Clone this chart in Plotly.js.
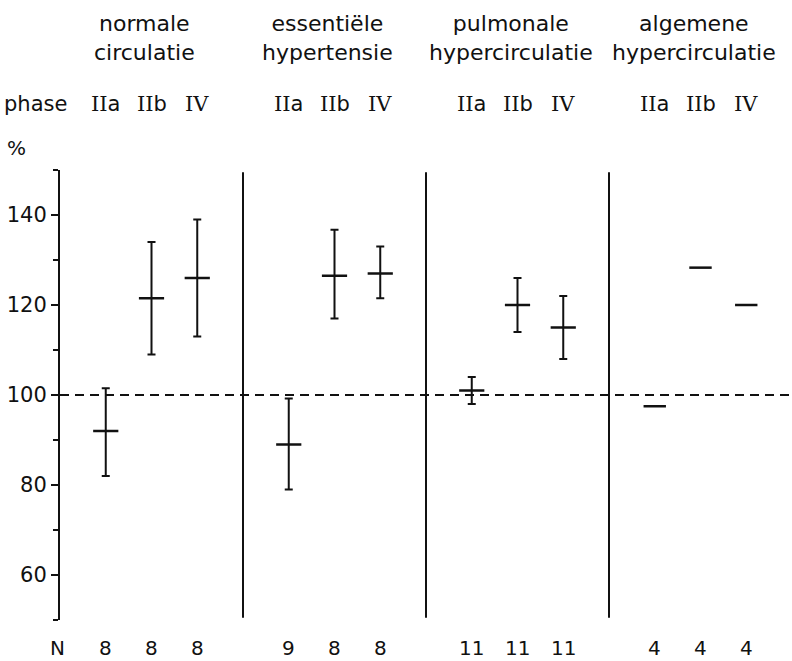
<!DOCTYPE html>
<html>
<head>
<meta charset="utf-8">
<script src="https://cdn.plot.ly/plotly-3.0.1.min.js"></script>
<style>body{margin:0;background:#fff}</style>
</head>
<body>
<div id="chart" style="width:792px;height:661px"></div>
<script>
// ---- data ----
const groupTitles = ['normale<br>circulatie', 'essentiële<br>hypertensie', 'pulmonale<br>hypercirculatie', 'algemene<br>hypercirculatie'];
const phaseLabels = ['IIa', 'IIb', 'IV'];
const meanValues  = [92, 121.5, 126,   89, 126.5, 127,   101, 120, 115,   97.5, 128.3, 120];
const lowerValues = [82, 109, 113,     79, 117, 121.5,   98, 114, 108,    null, null, null];
const upperValues = [101.5, 134, 139,  99.2, 136.7, 133, 104, 126, 122,   null, null, null];
const nValues     = [8, 8, 8,          9, 8, 8,          11, 11, 11,      4, 4, 4];
const referenceLevel = 100;
const yTickValues = [60, 80, 100, 120, 140];

// ---- layout helpers ----
const INK = '#111';
const FONT = 'DejaVu Sans';
const slot = (g, p) => g * 4 + p;          // category position on the x scale
const separators = [3, 7, 11];

const traces = [];
for (let g = 0; g < groupTitles.length; g++) {
  const xs = [], ys = [], plus = [], minus = [];
  let hasErr = false;
  for (let p = 0; p < phaseLabels.length; p++) {
    const i = g * 3 + p;
    xs.push(slot(g, p));
    ys.push(meanValues[i]);
    if (upperValues[i] != null) {
      hasErr = true;
      plus.push(upperValues[i] - meanValues[i]);
      minus.push(meanValues[i] - lowerValues[i]);
    } else { plus.push(0); minus.push(0); }
  }
  const t = {
    type: 'scatter', mode: 'markers', x: xs, y: ys, showlegend: false,
    hoverinfo: 'skip', cliponaxis: false,
    marker: {symbol: 'line-ew', size: hasErr ? 18 : 16, color: INK, line: {width: 2.5, color: INK}}
  };
  if (hasErr) {
    t.error_y = {type: 'data', symmetric: false, array: plus, arrayminus: minus,
                 color: INK, thickness: 2, width: 4};
  }
  traces.push(t);
}

const annotations = [];
const txt = (x, y, text, xref, size) => ({
  x, y, xref: xref || 'x', yref: 'paper', text, showarrow: false,
  xanchor: 'center', yanchor: 'middle',
  font: {family: FONT, size: size || 20, color: INK}
});

groupTitles.forEach((t, g) => {
  annotations.push(txt(slot(g, 1) - 0.15, 1.293, t, 'x', 22));
});
annotations.push(txt(-0.034, 1.147, 'phase', 'paper', 21));
const roman = s => s.replace(/^(I+V?|IV)/, m => '<span style="font-family:DejaVu Serif">' + m + '</span>');
for (let g = 0; g < groupTitles.length; g++) {
  phaseLabels.forEach((p, j) => annotations.push(txt(slot(g, j), 1.147, roman(p), 'x', 21)));
}
annotations.push(txt(-0.060, 1.049, '%', 'paper', 20));
annotations.push(txt(-0.004, -0.062, 'N', 'paper', 20));
nValues.forEach((n, i) => {
  annotations.push(txt(slot(Math.floor(i / 3), i % 3), -0.062, String(n), 'x', 20));
});

const shapes = separators.map(s => ({
  type: 'line', xref: 'x', yref: 'y', x0: s, x1: s, y0: 50.5, y1: 149.5,
  line: {color: INK, width: 2}
}));
shapes.push({
  type: 'line', xref: 'x', yref: 'y', x0: -1, x1: 15, y0: referenceLevel, y1: referenceLevel,
  line: {color: INK, width: 1.8, dash: '9px,6px'}
});

const layout = {
  width: 792, height: 661,
  margin: {l: 60, r: 0, t: 170, b: 41},
  paper_bgcolor: '#fff', plot_bgcolor: '#fff',
  font: {family: FONT, size: 20, color: INK},
  showlegend: false,
  xaxis: {range: [-1, 15], visible: false, showgrid: false, zeroline: false},
  yaxis: {
    range: [50, 150], showgrid: false, zeroline: false,
    showline: true, linecolor: INK, linewidth: 2,
    tickmode: 'array', tickvals: yTickValues, ticktext: yTickValues.map(String),
    ticks: 'outside', ticklen: 7, tickwidth: 2, tickcolor: INK,
    tickfont: {family: FONT, size: 21, color: INK},
    minor: {tickmode: 'array', tickvals: [50, 70, 90, 110, 130, 150], ticks: 'outside', ticklen: 5, tickwidth: 2, tickcolor: INK}
  },
  shapes, annotations
};

Plotly.newPlot('chart', traces, layout, {displayModeBar: false, staticPlot: true});
</script>
</body>
</html>
